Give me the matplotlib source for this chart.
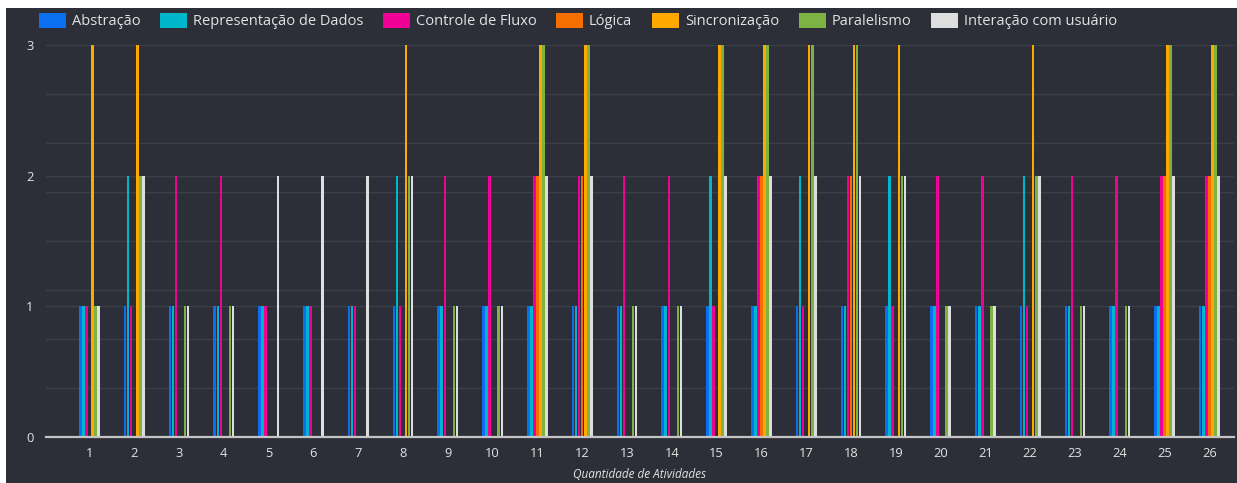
import matplotlib.pyplot as plt
import numpy as np
from matplotlib.patches import Rectangle

atividades = [str(i) for i in range(1, 27)]
series = ['Abstração', 'Representação de Dados', 'Controle de Fluxo', 'Lógica',
          'Sincronização', 'Paralelismo', 'Interação com usuário']
cores = ['#0a6ff0', '#00b6cb', '#f10096', '#f66d00', '#ffa800', '#7cb342', '#dedede']

abstracao     = [1, 1, 1, 1, 1, 1, 1, 1, 1, 1, 1, 1, 1, 1, 1, 1, 1, 1, 1, 1, 1, 1, 1, 1, 1, 1]
representacao = [1, 2, 1, 1, 1, 1, 1, 2, 1, 1, 1, 1, 1, 1, 2, 1, 2, 1, 2, 1, 1, 2, 1, 1, 1, 1]
controle      = [1, 1, 2, 2, 1, 1, 1, 1, 2, 2, 2, 2, 2, 2, 1, 2, 1, 2, 1, 2, 2, 1, 2, 2, 2, 2]
logica        = [0, 0, 0, 0, 0, 0, 0, 0, 0, 0, 2, 2, 0, 0, 0, 2, 0, 2, 0, 0, 0, 0, 0, 0, 2, 2]
sincronizacao = [3, 3, 0, 0, 0, 0, 0, 3, 0, 0, 3, 3, 0, 0, 3, 3, 3, 3, 3, 0, 0, 3, 0, 0, 3, 3]
paralelismo   = [1, 2, 1, 1, 0, 0, 0, 2, 1, 1, 3, 3, 1, 1, 3, 3, 3, 3, 2, 1, 1, 2, 1, 1, 3, 3]
interacao     = [1, 2, 1, 1, 2, 2, 2, 2, 1, 1, 2, 2, 1, 1, 2, 2, 2, 2, 2, 1, 1, 2, 1, 1, 2, 2]
valores = [abstracao, representacao, controle, logica, sincronizacao, paralelismo, interacao]

fundo = '#2c2f38'
texto = '#e3e3e3'
plt.rcParams['font.family'] = ['Open Sans', 'DejaVu Sans']

fig = plt.figure(figsize=(12.37, 4.83), dpi=100, facecolor='white')
fig.patches.append(Rectangle((6 / 1237, 0), 1, 1 - 8 / 483, transform=fig.transFigure,
                             facecolor=fundo, edgecolor='none', zorder=-5))
ax = fig.add_axes([46 / 1237, 1 - 437 / 483, 1188 / 1237, 392 / 483])
ax.set_facecolor(fundo)

x = np.arange(1, len(atividades) + 1)
passo = 0.068
for k, (nome, v, c) in enumerate(zip(series, valores, cores)):
    desloc = (k - 3) * passo
    ax.bar(x + desloc, v, width=passo * 0.82, color=c, label=nome, zorder=3)

ax.set_xlim(0.03, 26.55)
ax.set_ylim(0, 3)
ax.set_yticks([0, 1, 2, 3])
ax.set_yticks(np.arange(0, 3.01, 0.375), minor=True)
ax.set_xticks(x)
ax.set_xticklabels(atividades)
ax.grid(True, which='both', axis='y', color='#3c3f48', linewidth=1)
ax.set_axisbelow(True)
ax.tick_params(axis='both', which='both', length=0, colors=texto, labelsize=9.3)
ax.tick_params(axis='y', pad=9)
ax.tick_params(axis='x', pad=7)
for s in ['top', 'right', 'left']:
    ax.spines[s].set_visible(False)
ax.spines['bottom'].set_color('#c4c4c4')
ax.spines['bottom'].set_linewidth(1.6)
ax.spines['bottom'].set_zorder(4)

ax.set_xlabel('Quantidade de Atividades', fontsize=8.5, style='italic', color=texto, labelpad=6)

leg = fig.legend(loc='center left', bbox_to_anchor=(39 / 1237, 1 - 21 / 483), ncol=7,
                 frameon=False, fontsize=10.5, handlelength=1.85, handleheight=1.3,
                 handletextpad=0.4, columnspacing=1.35, borderpad=0, borderaxespad=0)
for t in leg.get_texts():
    t.set_color(texto)

fig.savefig('out.png', dpi=100, facecolor=fig.get_facecolor())
